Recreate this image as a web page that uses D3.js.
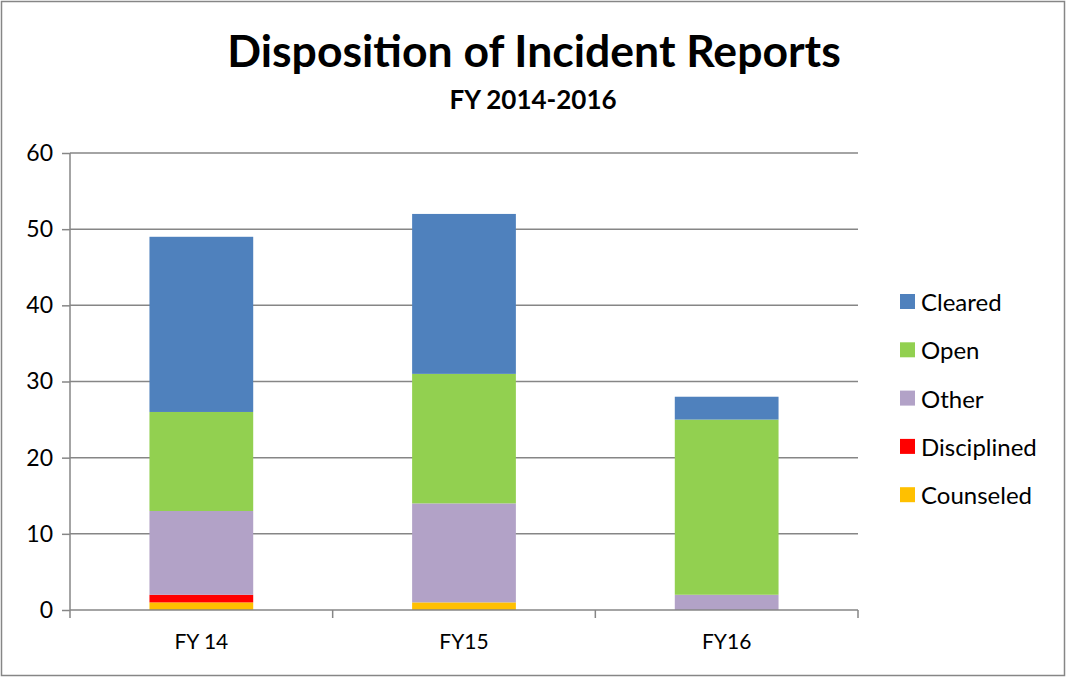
<!DOCTYPE html>
<html>
<head>
<meta charset="utf-8">
<script src="https://cdn.jsdelivr.net/npm/d3@7"></script>
<style>
  body { margin: 0; background: #fff; }
  text { font-family: Lato, "Open Sans", sans-serif; fill: #000; }
</style>
</head>
<body>
<div id="chart"></div>
<script>
// Data
var categories = ['FY 14', 'FY15', 'FY16'];
var seriesNames = ['Counseled', 'Disciplined', 'Other', 'Open', 'Cleared'];
var seriesColors = ['#ffc000', '#ff0000', '#b2a2c7', '#92d050', '#4f81bd'];
var counseled   = [1, 1, 0];
var disciplined = [1, 0, 0];
var other       = [11, 13, 2];
var open        = [13, 17, 23];
var cleared     = [23, 21, 3];
var yTicks = [0, 10, 20, 30, 40, 50, 60];

var seriesValues = [counseled, disciplined, other, open, cleared];

var W = 1066, H = 677;
var margin = { top: 153, right: 208, bottom: 67, left: 70 };
var width  = W - margin.left - margin.right;
var height = H - margin.top - margin.bottom;

// Build rows for the stack
var rows = categories.map(function (c, i) {
    var r = { cat: c };
    seriesNames.forEach(function (s, j) { r[s] = seriesValues[j][i]; });
    return r;
});
var stacked = d3.stack().keys(seriesNames)(rows);

var svg = d3.select('#chart')
            .append('svg')
            .attr('width', W)
            .attr('height', H);

// Outer frame
svg.append('rect')
   .attr('x', 1.5).attr('y', 1.5)
   .attr('width', W - 3).attr('height', H - 3)
   .attr('fill', '#fff')
   .attr('stroke', '#868686')
   .attr('stroke-width', 1.5);

// Titles
svg.append('text')
   .attr('x', 534).attr('y', 67)
   .attr('text-anchor', 'middle')
   .style('font-size', '44.5px')
   .style('font-weight', 'bold')
   .text('Disposition of Incident Reports');

svg.append('text')
   .attr('x', 533).attr('y', 109)
   .attr('text-anchor', 'middle')
   .style('font-size', '26px')
   .style('font-weight', 'bold')
   .text('FY 2014-2016');

var g = svg.append('g')
           .attr('transform', 'translate(' + margin.left + ',' + margin.top + ')');

var xScale = d3.scaleBand()
               .domain(categories)
               .range([0, width])
               .paddingInner(0.605)
               .paddingOuter(0.3025);

var yScale = d3.scaleLinear()
               .domain([0, 60])
               .range([height, 0]);

// Gridlines
g.selectAll('.grid')
 .data(yTicks.slice(1))
 .enter().append('line')
 .attr('class', 'grid')
 .attr('x1', 0).attr('x2', width)
 .attr('y1', function (d) { return yScale(d); })
 .attr('y2', function (d) { return yScale(d); })
 .attr('stroke', '#868686')
 .attr('stroke-width', 1.5);

// Bars
g.selectAll('.series')
 .data(stacked)
 .enter().append('g')
 .attr('class', 'series')
 .attr('fill', function (d, i) { return seriesColors[i]; })
 .selectAll('rect')
 .data(function (d) { return d; })
 .enter().append('rect')
 .attr('x', function (d) { return xScale(d.data.cat); })
 .attr('width', xScale.bandwidth())
 .attr('y', function (d) { return yScale(d[1]); })
 .attr('height', function (d) { return yScale(d[0]) - yScale(d[1]); });

// Y axis
var yAxis = d3.axisLeft(yScale)
              .tickValues(yTicks)
              .tickSize(8)
              .tickPadding(9);
var yG = g.append('g').call(yAxis);
yG.select('.domain').attr('stroke', '#868686').attr('stroke-width', 1.5).attr('d', 'M0,0V' + height);
yG.selectAll('.tick line').attr('stroke', '#868686').attr('stroke-width', 1.5);
yG.selectAll('.tick text').style('font-size', '23px').style('font-family', 'Lato, "Open Sans", sans-serif').attr('fill', '#000');

// X axis: ticks at category boundaries
var xAxisG = g.append('g').attr('transform', 'translate(0,' + height + ')');
xAxisG.append('line')
      .attr('x1', 0).attr('x2', width)
      .attr('stroke', '#868686').attr('stroke-width', 1.5);
var step = width / categories.length;
xAxisG.selectAll('.xtick')
      .data(d3.range(categories.length + 1))
      .enter().append('line')
      .attr('x1', function (d) { return d * step; })
      .attr('x2', function (d) { return d * step; })
      .attr('y1', 0).attr('y2', 8)
      .attr('stroke', '#868686').attr('stroke-width', 1.5);
xAxisG.selectAll('.xlabel')
      .data(categories)
      .enter().append('text')
      .attr('x', function (d) { return xScale(d) + xScale.bandwidth() / 2; })
      .attr('y', 39)
      .attr('text-anchor', 'middle')
      .style('font-size', '21px')
      .text(function (d) { return d; });

// Legend (top to bottom: Cleared ... Counseled)
var legendItems = seriesNames.map(function (s, i) { return { name: s, color: seriesColors[i] }; }).reverse();
var legend = svg.selectAll('.legend')
                .data(legendItems)
                .enter().append('g')
                .attr('class', 'legend')
                .attr('transform', function (d, i) { return 'translate(900,' + (302 + i * 48.3) + ')'; });
legend.append('rect')
      .attr('x', 0).attr('y', -8)
      .attr('width', 15).attr('height', 15)
      .attr('fill', function (d) { return d.color; });
legend.append('text')
      .attr('x', 21).attr('y', 9)
      .style('font-size', '24px')
      .text(function (d) { return d.name; });
</script>
</body>
</html>
